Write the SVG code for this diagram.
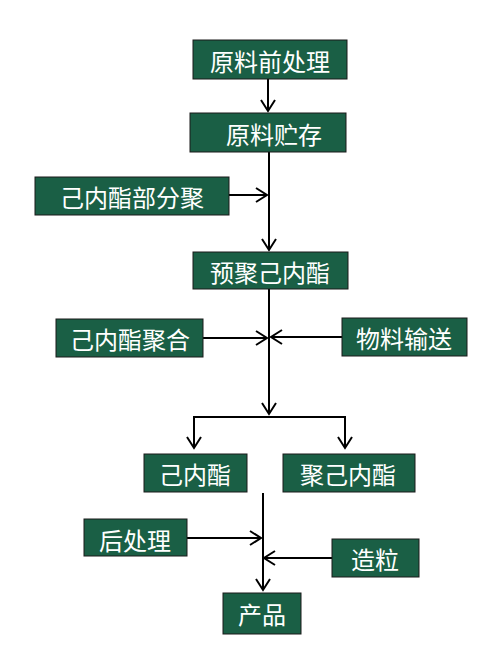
<svg xmlns="http://www.w3.org/2000/svg" width="498" height="670" viewBox="0 0 498 670">
<style>
.box{fill:#1a5f45;stroke:#1a1a1a;stroke-width:1}
.t{fill:#fff;font-family:"Noto Sans CJK SC","Noto Sans",sans-serif;font-size:24px;text-anchor:middle;dominant-baseline:central}
.c{fill:none;stroke:#000;stroke-width:2}
</style>
<defs>
<marker id="a" markerUnits="userSpaceOnUse" markerWidth="16" markerHeight="16" viewBox="-14 -8 16 16" refX="0" refY="0" orient="auto">
<path d="M-11,-7 L0,0 L-11,7" fill="none" stroke="#000" stroke-width="2"/>
</marker>
</defs>
<rect width="498" height="670" fill="#fff"/>
<g id="connectors">
<path class="c" d="M268,79 V111" marker-end="url(#a)"/>
<path class="c" d="M269,152 V250" marker-end="url(#a)"/>
<path class="c" d="M229,195 H267" marker-end="url(#a)"/>
<path class="c" d="M269,289 V414" marker-end="url(#a)"/>
<path class="c" d="M203,338 H267" marker-end="url(#a)"/>
<path class="c" d="M342,337 H271" marker-end="url(#a)"/>
<path class="c" d="M194,447 V417 H345 V447"/>
<path class="c" d="M194,420 V448" marker-end="url(#a)"/>
<path class="c" d="M345,420 V448" marker-end="url(#a)"/>
<path class="c" d="M263,493 V590" marker-end="url(#a)"/>
<path class="c" d="M187,538 H261" marker-end="url(#a)"/>
<path class="c" d="M332,558 H264" marker-end="url(#a)"/>
</g>
<g id="n1"><rect class="box" x="193" y="40" width="154" height="39"/><text class="t" x="270" y="60">原料前处理</text></g>
<g id="n2"><rect class="box" x="190" y="113" width="156" height="39"/><text class="t" x="274" y="133">原料贮存</text></g>
<g id="n3"><rect class="box" x="35" y="177" width="194" height="38"/><text class="t" x="132" y="196">己内酯部分聚</text></g>
<g id="n4"><rect class="box" x="193" y="252" width="155" height="37"/><text class="t" x="270" y="271">预聚己内酯</text></g>
<g id="n5"><rect class="box" x="56" y="319" width="147" height="38"/><text class="t" x="130" y="338">己内酯聚合</text></g>
<g id="n6"><rect class="box" x="342" y="318" width="125" height="38"/><text class="t" x="404" y="337">物料输送</text></g>
<g id="n7"><rect class="box" x="144" y="454" width="103" height="38"/><text class="t" x="195" y="473">己内酯</text></g>
<g id="n8"><rect class="box" x="283" y="454" width="132" height="38"/><text class="t" x="348" y="473">聚己内酯</text></g>
<g id="n9"><rect class="box" x="84" y="519" width="103" height="37"/><text class="t" x="135" y="539">后处理</text></g>
<g id="n10"><rect class="box" x="332" y="539" width="87" height="38"/><text class="t" x="375" y="558">造粒</text></g>
<g id="n11"><rect class="box" x="223" y="593" width="78" height="41"/><text class="t" x="262" y="613">产品</text></g>
</svg>
